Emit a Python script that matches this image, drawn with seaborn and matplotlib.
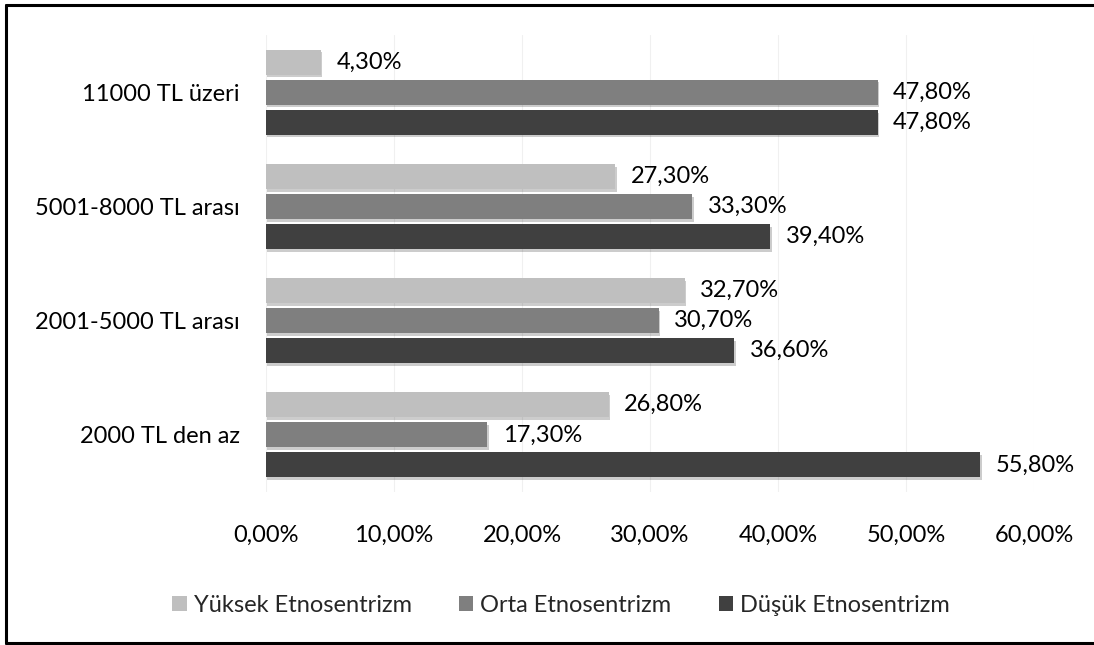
import matplotlib
matplotlib.use("Agg")
import matplotlib.pyplot as plt
import matplotlib.patheffects as pe
from matplotlib.patches import Patch
from matplotlib.lines import Line2D
from matplotlib.ticker import FuncFormatter
import seaborn as sns
import pandas as pd

# Income groups (top to bottom) and ethnocentrism levels
categories = ["11000 TL üzeri", "5001-8000 TL arası", "2001-5000 TL arası", "2000 TL den az"]
series = ["Yüksek Etnosentrizm", "Orta Etnosentrizm", "Düşük Etnosentrizm"]
yuksek = [4.3, 27.3, 32.7, 26.8]
orta = [47.8, 33.3, 30.7, 17.3]
dusuk = [47.8, 39.4, 36.6, 55.8]
x_ticks = [0, 10, 20, 30, 40, 50, 60]

colors = ["#BFBFBF", "#7F7F7F", "#404040"]

rows = []
for name, vals in zip(series, [yuksek, orta, dusuk]):
    for cat, v in zip(categories, vals):
        rows.append({"Gelir": cat, "Seviye": name, "Oran": v})
df = pd.DataFrame(rows)

sns.set_theme(style="white")
plt.rcParams["font.family"] = ["Lato", "DejaVu Sans"]
FS = 17

W, H = 1094, 645
fig = plt.figure(figsize=(W / 100, H / 100), dpi=100)
ax = fig.add_axes([266 / W, 1 - 492 / H, 768 / W, 457 / H])

sns.barplot(data=df, y="Gelir", x="Oran", hue="Seviye", order=categories,
            hue_order=series, palette=colors, orient="h", width=0.79, gap=0.17,
            saturation=1, ax=ax, legend=False, edgecolor="none")

fmt = lambda v: f"{v:.2f}".replace(".", ",") + "%"
for cont in ax.containers:
    for bar in cont:
        bar.set_path_effects([pe.SimplePatchShadow(offset=(1, -2), shadow_rgbFace="#000000", alpha=0.2),
                              pe.Normal()])
    ax.bar_label(cont, labels=[fmt(b.get_width()) for b in cont], padding=11,
                 fontsize=FS, color="#000000")

ax.set_xlim(0, 60)
ax.set_xticks(x_ticks)
ax.xaxis.set_major_formatter(FuncFormatter(lambda v, p: fmt(v)))
ax.grid(axis="x", color="#F0F0F0", linewidth=0.8)
ax.set_axisbelow(True)
for s in ax.spines.values():
    s.set_visible(False)
ax.tick_params(axis="x", labelsize=FS, pad=24, length=0, colors="#000000")
ax.tick_params(axis="y", labelsize=FS, pad=19, length=0, colors="#000000")
ax.set_xlabel("")
ax.set_ylabel("")

handles = [Patch(facecolor=c, edgecolor="none", label=s) for c, s in zip(colors, series)]
fig.legend(handles=handles, loc="center", bbox_to_anchor=(561 / W, 1 - 605 / H), ncol=3,
           frameon=False, fontsize=FS, handlelength=0.6, handleheight=0.6,
           handletextpad=0.3, columnspacing=2.0, bbox_transform=fig.transFigure)

# Outer frame: left, top and bottom edges
frame_kw = dict(transform=fig.transFigure, color="black", linewidth=2.2)
fig.lines.append(Line2D([6 / W, 6 / W], [1 - 5 / H, 1 - 642.5 / H], **frame_kw))
fig.lines.append(Line2D([6 / W, 1.0], [1 - 5 / H, 1 - 5 / H], **frame_kw))
fig.lines.append(Line2D([6 / W, 1.0], [1 - 642.5 / H, 1 - 642.5 / H], **frame_kw))

fig.savefig("out.png", dpi=100, facecolor="white")
